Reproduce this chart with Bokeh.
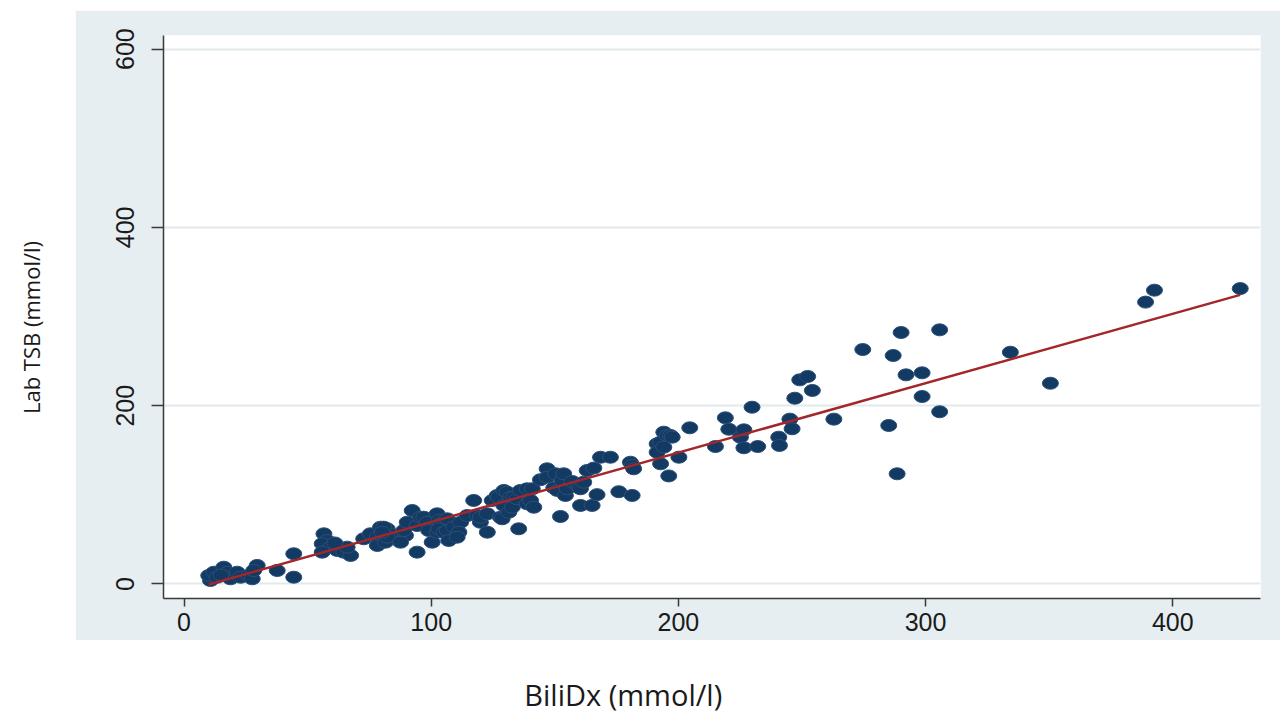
import math
from bokeh.plotting import figure
from bokeh.layouts import row, column
from bokeh.models import Range1d, FixedTicker, Label, Spacer
from bokeh.embed import file_html
from bokeh.resources import INLINE

# ---- data ----
bilidx = [
    10.7, 10.0, 12.1, 13.4, 16.1, 17.5, 18.8, 15.0, 21.5, 22.9, 26.2, 27.6, 29.6, 28.2, 37.7, 44.4, 44.4,
    56.6, 57.9, 55.9, 59.3, 55.9, 62.0, 64.6, 67.4, 66.0, 61.0,
    72.7, 75.4, 78.2, 79.5, 82.2, 78.2, 83.5, 80.8, 81.5, 82.2, 80.2,
    89.6, 87.6, 88.9, 90.3, 92.3, 94.3, 95.7, 94.3, 97.0, 98.4, 99.0, 100.4, 102.4, 103.1, 102.4, 103.8,
    103.1, 105.1, 106.5, 106.5, 107.1, 109.1,
    111.9, 111.2, 110.5, 114.6, 117.2, 118.6, 119.9, 119.9, 122.7, 122.7, 124.7, 126.7, 127.3, 128.0,
    128.7, 129.4, 129.4, 130.7,
    131.4, 132.1, 132.8, 133.4, 134.8, 135.4, 136.1, 138.8, 138.8, 140.2, 140.9, 141.5, 144.2, 146.9,
    146.9, 149.6, 150.3, 151.0, 152.3, 153.0, 153.6, 154.3, 155.0, 157.0, 159.7,
    160.4, 160.4, 161.7, 163.1, 165.1, 165.8, 167.1, 168.5, 172.5, 175.9, 180.6, 181.3, 181.9, 181.3,
    191.4, 191.4, 192.8, 192.8, 194.1, 194.1, 195.5, 196.8, 196.1, 197.5, 200.2, 204.6,
    215.0, 219.0, 220.4, 225.1, 226.5, 226.5, 229.8, 232.1, 240.6, 240.9, 245.1, 246.0, 247.1, 249.1,
    252.3, 254.2, 262.9, 274.6, 285.1, 286.9, 288.5, 290.1, 292.1, 298.6, 298.6, 305.7, 305.7, 334.3,
    350.5, 389.0, 392.6, 427.3,
]
lab_tsb = [
    3.9, 9.5, 13.2, 7.6, 18.8, 13.2, 5.8, 10.0, 13.2, 7.6, 9.5, 5.8, 20.8, 15.1, 15.1, 33.9, 7.6,
    56.3, 48.8, 45.1, 41.3, 35.7, 37.6, 35.7, 32.0, 41.3, 46.0,
    50.7, 56.3, 52.5, 63.7, 61.9, 43.2, 56.3, 63.7, 46.9, 52.5, 58.1,
    54.4, 46.9, 60.0, 69.3, 82.4, 65.6, 74.9, 35.7, 74.9, 69.3, 60.0, 46.9, 78.7, 71.2, 58.1, 67.5,
    61.9, 58.1, 60.0, 73.1, 48.8, 63.7,
    69.3, 58.1, 52.5, 76.8, 93.7, 76.8, 69.3, 74.9, 78.7, 58.1, 93.7, 99.3, 97.4, 74.9,
    73.1, 88.1, 104.9, 103.0,
    80.5, 97.4, 86.1, 97.4, 95.6, 61.9, 104.9, 90.0, 106.8, 93.7, 106.8, 86.1, 117.0, 129.2,
    119.8, 107.9, 123.6, 104.9, 75.7, 116.1, 123.6, 99.3, 106.8, 115.0, 108.6,
    106.8, 88.1, 114.2, 127.3, 88.1, 130.0, 100.2, 142.2, 142.2, 103.5, 136.6, 132.9, 129.2, 99.3,
    157.2, 147.8, 159.1, 134.8, 170.3, 153.5, 166.6, 166.6, 121.2, 164.7, 142.2, 175.2,
    154.2, 186.4, 173.6, 164.7, 172.9, 152.8, 198.3, 154.2, 164.7, 155.4, 184.9, 174.1, 208.4, 229.0,
    232.8, 217.1, 184.9, 263.0, 177.8, 256.3, 123.6, 282.1, 234.6, 236.9, 210.3, 193.2, 285.1, 260.0,
    225.2, 316.2, 329.6, 331.4,
]
# linear fit shown as the red line
fit_intercept = -8.33
fit_slope = 0.7785

x_ticks = [0, 100, 200, 300, 400]
y_ticks = [0, 200, 400, 600]
x_title = "BiliDx (mmol/l)"
y_title = "Lab TSB (mmol/l)"

PANEL = "#e6eef1"
NAVY = "#123a63"
RED = "#a3262a"
AXIS = "#3a3a3a"

p = figure(width=1205, height=630, output_backend="svg", toolbar_location=None,
           x_range=Range1d(-8.3, 435.5), y_range=Range1d(-16.3, 615.3),
           min_border_left=88, min_border_right=20, min_border_top=25, min_border_bottom=42)
p.border_fill_color = PANEL
p.background_fill_color = "white"
p.outline_line_color = None

p.xgrid.visible = False
p.ygrid.grid_line_color = "#e1e9ec"
p.ygrid.grid_line_width = 2

p.xaxis.ticker = FixedTicker(ticks=x_ticks)
p.yaxis.ticker = FixedTicker(ticks=y_ticks)
for ax in (p.xaxis[0], p.yaxis[0]):
    ax.axis_line_color = AXIS
    ax.axis_line_width = 1.5
    ax.major_tick_line_color = AXIS
    ax.major_tick_line_width = 1.5
    ax.major_tick_in = 0
    ax.minor_tick_line_color = None
    ax.major_label_text_font = "Liberation Sans"
    ax.major_label_text_color = "#1a1a1a"
p.xaxis.major_tick_out = 8
p.yaxis.major_tick_out = 12
p.xaxis.major_label_text_font_size = "25px"
p.yaxis.major_label_text_font_size = "25px"
p.xaxis.major_label_standoff = 6
p.yaxis.major_label_standoff = 17
p.yaxis.major_label_orientation = "vertical"

p.ellipse(x=bilidx, y=lab_tsb, width=16, height=12, width_units="screen", height_units="screen",
          fill_color=NAVY, line_color="#2b4f78", line_width=1)

x0, x1 = min(bilidx), max(bilidx)
p.line([x0, x1], [fit_intercept + fit_slope * x0, fit_intercept + fit_slope * x1],
       line_color=RED, line_width=2.5)

# left title panel (page x 0..75)
left = figure(width=75, height=717, output_backend="svg", toolbar_location=None,
              x_range=Range1d(0, 75), y_range=Range1d(0, 717), min_border=0)
left.axis.visible = False
left.grid.visible = False
left.outline_line_color = None
left.add_layout(Label(x=30, y=390, text=y_title, angle=math.pi / 2, text_align="center",
                      text_baseline="middle", text_font="Open Sans", text_font_size="22px",
                      text_color="#1a1a1a"))

# bottom title panel (page y 640..717)
bottom = figure(width=1205, height=77, output_backend="svg", toolbar_location=None,
                x_range=Range1d(0, 1205), y_range=Range1d(0, 77), min_border=0)
bottom.axis.visible = False
bottom.grid.visible = False
bottom.outline_line_color = None
bottom.add_layout(Label(x=505, y=23, text=x_title, text_align="center",
                        text_baseline="middle", text_font="Open Sans", text_font_size="29px",
                        text_color="#1a1a1a"))

layout = row(left, column(Spacer(width=1205, height=10), p, bottom))

open("out.html", "w").write(file_html(layout, INLINE))
